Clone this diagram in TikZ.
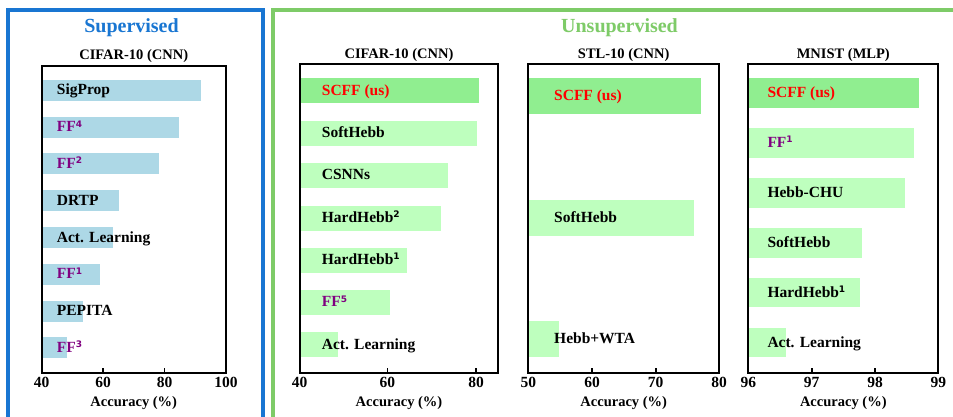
\documentclass[tikz,border=0pt]{standalone}
\usepackage{fontspec}
\setmainfont{Liberation Serif}
\newfontfamily\supfont{DejaVu Sans}
\definecolor{frameblue}{RGB}{25,118,210}
\definecolor{framegreen}{RGB}{126,203,104}
\definecolor{barblue}{HTML}{ADD8E6}
\definecolor{bargreen}{HTML}{90EE90}
\definecolor{barpale}{RGB}{190,255,190}
\definecolor{ffpurple}{HTML}{800080}
\newcommand{\supnum}[1]{\raisebox{4.6pt}{\fontsize{9}{9}\selectfont\supfont\bfseries #1}}
\begin{document}
\begin{tikzpicture}[x=1pt,y=-1pt,
  barlbl/.style={anchor=base west,inner sep=0pt,font=\fontsize{15.5}{16}\selectfont\bfseries},
  ticklbl/.style={anchor=base,inner sep=0pt,font=\fontsize{15.5}{16}\selectfont\bfseries},
  axlbl/.style={anchor=base,inner sep=0pt,font=\fontsize{14.5}{15}\selectfont\bfseries},
  paneltitle/.style={anchor=base,inner sep=0pt,font=\fontsize{14.5}{15}\selectfont\bfseries},
  grouptitle/.style={anchor=base,inner sep=0pt,font=\fontsize{20}{22}\selectfont\bfseries},
  axisbox/.style={draw=black,line width=2pt},
  tickmark/.style={draw=black,line width=1.6pt},
  frame/.style={line width=4pt}]
\useasboundingbox (0,0) rectangle (953,416);
\begin{scope}
\clip (0,0) rectangle (953,416);
\fill[white] (0,0) rectangle (953,416);
% group frames
\draw[frame,draw=frameblue] (8,430) -- (8,10) -- (263,10) -- (263,430);
\draw[frame,draw=framegreen] (273,430) -- (273,10) -- (970,10) -- (970,430);
\node[grouptitle,text=frameblue] (gsup) at (131.5,32.5) {Supervised};
\node[grouptitle,text=framegreen] (gunsup) at (619.5,32.5) {Unsupervised};

% ---------- Panel 1: supervised CIFAR-10 ----------
\fill[barblue] (41.5,79.8) rectangle (201,100.8);
\fill[barblue] (41.5,116.6) rectangle (179.3,137.6);
\fill[barblue] (41.5,153.4) rectangle (159,174.4);
\fill[barblue] (41.5,190.2) rectangle (119.3,211.2);
\fill[barblue] (41.5,227) rectangle (112.7,248);
\fill[barblue] (41.5,263.8) rectangle (99.7,284.8);
\fill[barblue] (41.5,300.6) rectangle (83.3,321.6);
\fill[barblue] (41.5,337.4) rectangle (66.7,358.4);
\node[barlbl] (a1) at (56.7,94.8) {SigProp};
\node[barlbl,text=ffpurple] (a2) at (56.7,131.6) {FF\supnum{4}};
\node[barlbl,text=ffpurple] (a3) at (56.7,168.4) {FF\supnum{2}};
\node[barlbl] (a4) at (56.7,205.2) {DRTP};
\node[barlbl] (a5) at (56.7,242) {Act. Learning};
\node[barlbl,text=ffpurple] (a6) at (56.7,278.8) {FF\supnum{1}};
\node[barlbl] (a7) at (56.7,315.6) {PEPITA};
\node[barlbl,text=ffpurple] (a8) at (56.7,352.4) {FF\supnum{3}};
\draw[axisbox] (41.5,66) rectangle (226,372.5);
\draw[tickmark] (103,372.5) -- ++(0,-5);
\draw[tickmark] (164.5,372.5) -- ++(0,-5);
\node[ticklbl] (a1t) at (41.5,387) {40};
\node[ticklbl] (a2t) at (103,387) {60};
\node[ticklbl] (a3t) at (164.5,387) {80};
\node[ticklbl] (a4t) at (226,387) {100};
\node[paneltitle] (atitle) at (133.75,59.3) {CIFAR-10 (CNN)};
\node[axlbl] (axl) at (133.75,406) {Accuracy (\%)};

% ---------- Panel 2: unsupervised CIFAR-10 ----------
\fill[bargreen] (299.7,78.3) rectangle (479.3,103.3);
\fill[barpale] (299.7,120.7) rectangle (477,145.7);
\fill[barpale] (299.7,163) rectangle (448,188);
\fill[barpale] (299.7,205.5) rectangle (441,230.5);
\fill[barpale] (299.7,247.7) rectangle (407,272.7);
\fill[barpale] (299.7,290) rectangle (389.7,315);
\fill[barpale] (299.7,332.3) rectangle (337.7,357.3);
\node[barlbl,text=red] (b1) at (321.7,95.1) {SCFF (us)};
\node[barlbl] (b2) at (321.7,137.5) {SoftHebb};
\node[barlbl] (b3) at (321.7,179.8) {CSNNs};
\node[barlbl] (b4) at (321.7,222.3) {HardHebb\supnum{2}};
\node[barlbl] (b5) at (321.7,264.5) {HardHebb\supnum{1}};
\node[barlbl,text=ffpurple] (b6) at (321.7,306.8) {FF\supnum{5}};
\node[barlbl] (b7) at (321.7,349.1) {Act. Learning};
\draw[axisbox] (299.7,63.7) rectangle (498.3,372.5);
\draw[tickmark] (387.3,372.5) -- ++(0,-5);
\draw[tickmark] (476,372.5) -- ++(0,-5);
\node[ticklbl] (b1t) at (299.7,387) {40};
\node[ticklbl] (b2t) at (387.3,387) {60};
\node[ticklbl] (b3t) at (476,387) {80};
\node[paneltitle] (btitle) at (399,58.5) {CIFAR-10 (CNN)};
\node[axlbl] (bxl) at (399,406) {Accuracy (\%)};

% ---------- Panel 3: STL-10 ----------
\fill[bargreen] (528.3,78.3) rectangle (700.7,114);
\fill[barpale] (528.3,199.5) rectangle (693.7,235.8);
\fill[barpale] (528.3,321) rectangle (558.7,357.3);
\node[barlbl,text=red] (c1) at (554,100.5) {SCFF (us)};
\node[barlbl] (c2) at (554,222) {SoftHebb};
\node[barlbl] (c3) at (554,343.5) {Hebb+WTA};
\draw[axisbox] (528.3,63.7) rectangle (719,372.5);
\draw[tickmark] (592,372.5) -- ++(0,-5);
\draw[tickmark] (655.7,372.5) -- ++(0,-5);
\node[ticklbl] (c1t) at (528.3,387) {50};
\node[ticklbl] (c2t) at (592,387) {60};
\node[ticklbl] (c3t) at (655.7,387) {70};
\node[ticklbl] (c4t) at (719,387) {80};
\node[paneltitle] (ctitle) at (623.7,58.5) {STL-10 (CNN)};
\node[axlbl] (cxl) at (623.7,406) {Accuracy (\%)};

% ---------- Panel 4: MNIST ----------
\fill[bargreen] (748.3,78.3) rectangle (918.7,107.8);
\fill[barpale] (748.3,128.3) rectangle (913.7,157.8);
\fill[barpale] (748.3,178.3) rectangle (904.7,207.8);
\fill[barpale] (748.3,228.3) rectangle (862,257.8);
\fill[barpale] (748.3,277.8) rectangle (860,307.3);
\fill[barpale] (748.3,327.8) rectangle (786,357.3);
\node[barlbl,text=red] (d1) at (767.3,97.5) {SCFF (us)};
\node[barlbl,text=ffpurple] (d2) at (767.3,147.5) {FF\supnum{1}};
\node[barlbl] (d3) at (767.3,197.5) {Hebb-CHU};
\node[barlbl] (d4) at (767.3,247.5) {SoftHebb};
\node[barlbl] (d5) at (767.3,297) {HardHebb\supnum{1}};
\node[barlbl] (d6) at (767.3,347) {Act. Learning};
\draw[axisbox] (748.3,63.7) rectangle (938.3,372.5);
\draw[tickmark] (811.7,372.5) -- ++(0,-5);
\draw[tickmark] (875,372.5) -- ++(0,-5);
\node[ticklbl] (d1t) at (748.3,387) {96};
\node[ticklbl] (d2t) at (811.7,387) {97};
\node[ticklbl] (d3t) at (875,387) {98};
\node[ticklbl] (d4t) at (938.3,387) {99};
\node[paneltitle] (dtitle) at (843.3,58.5) {MNIST (MLP)};
\node[axlbl] (dxl) at (843.3,406) {Accuracy (\%)};
\end{scope}
\end{tikzpicture}
\end{document}
